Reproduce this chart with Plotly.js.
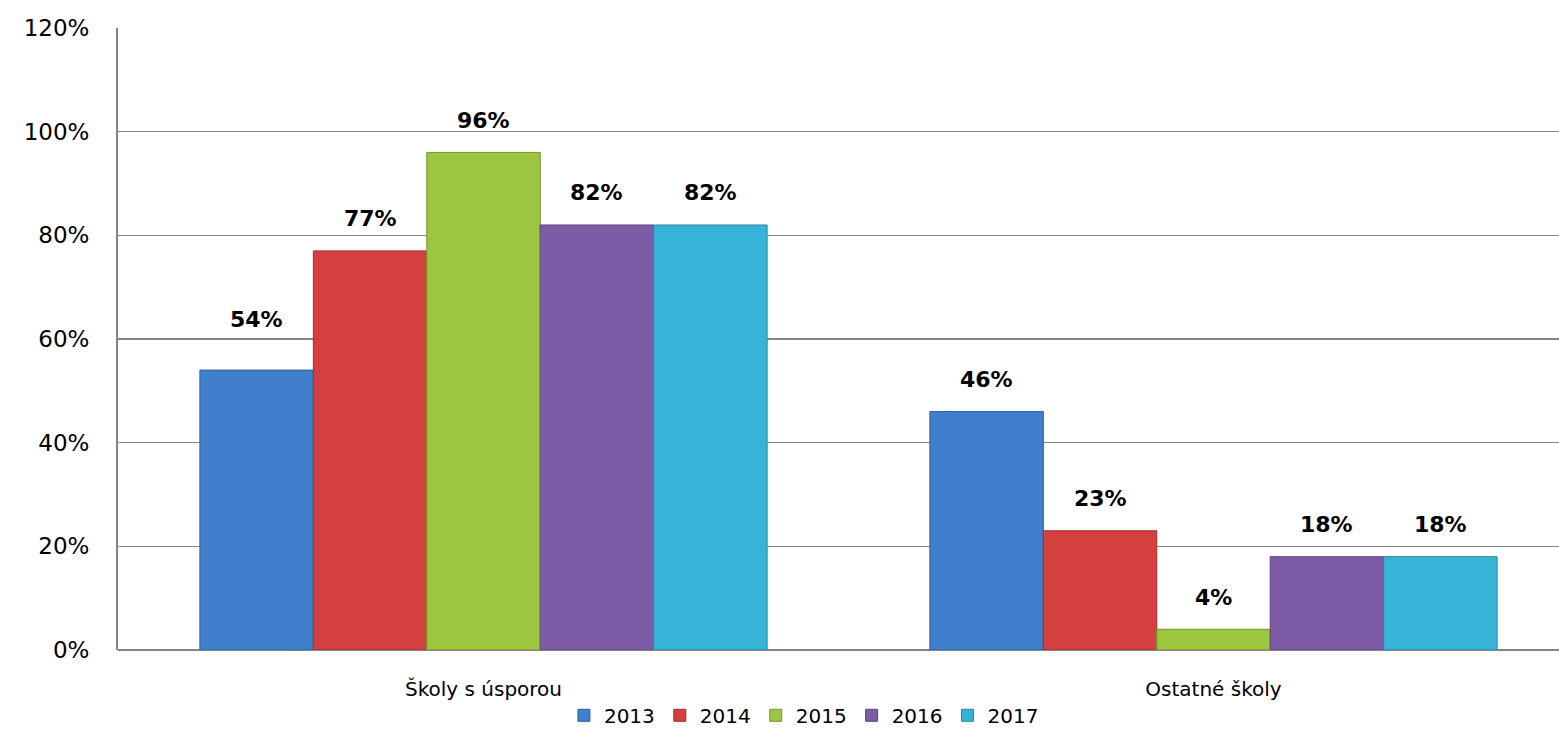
<!DOCTYPE html>
<html>
<head>
<meta charset="utf-8">
<script src="https://cdn.plot.ly/plotly-3.0.1.min.js"></script>
<style>html,body{margin:0;padding:0;background:#fff;}#chart{width:1559px;height:752px;}</style>
</head>
<body>
<div id="chart"></div>
<script>
const categories = ['Školy s úsporou', 'Ostatné školy'];
const years = ['2013', '2014', '2015', '2016', '2017'];
const v2013 = [0.54, 0.46];
const v2014 = [0.77, 0.23];
const v2015 = [0.96, 0.04];
const v2016 = [0.82, 0.18];
const v2017 = [0.82, 0.18];
const yTicks = [0, 0.2, 0.4, 0.6, 0.8, 1.0, 1.2];

const seriesValues = [v2013, v2014, v2015, v2016, v2017];
const colors = ['#3F7FCC', '#D4403D', '#9CC640', '#7E5BA6', '#36B4D7'];
const lineColors = ['#2E5F9A', '#9E2F2D', '#74952F', '#5D437C', '#2886A0'];
const bargap = 0.223;
const FONT = '"DejaVu Sans", "Open Sans", sans-serif';

const traces = seriesValues.map((vals, i) => ({
  type: 'bar',
  name: years[i],
  x: categories.map((c, j) => j),
  y: vals,
  marker: {color: colors[i], line: {color: lineColors[i], width: 1}},
  hoverinfo: 'skip'
}));

const n = seriesValues.length;
const w = (1 - bargap) / n;
const annotations = [];
seriesValues.forEach((vals, i) => {
  vals.forEach((v, j) => {
    annotations.push({
      x: j + (i - (n - 1) / 2) * w,
      y: v,
      xref: 'x', yref: 'y',
      text: Math.round(v * 100) + '%',
      showarrow: false,
      yanchor: 'middle',
      yshift: (i === 0 && j === 0) ? 51 : 32,
      font: {family: FONT, size: 22, color: '#000', weight: 'bold'}
    });
  });
});

const layout = {
  width: 1559, height: 752,
  margin: {l: 118, r: 0, t: 28, b: 102},
  paper_bgcolor: '#fff', plot_bgcolor: '#fff',
  barmode: 'group',
  bargap: bargap,
  bargroupgap: 0,
  showlegend: true,
  legend: {
    orientation: 'h', x: 0.476, xanchor: 'center', y: -0.105, yanchor: 'middle',
    font: {family: FONT, size: 20, color: '#000'},
    itemwidth: 30, tracegroupgap: 0, traceorder: 'normal'
  },
  xaxis: {
    type: 'linear',
    range: [-0.5007, 1.4733],
    tickmode: 'array',
    tickvals: categories.map((c, j) => j),
    ticktext: categories,
    showgrid: false,
    zeroline: false,
    showline: false,
    ticks: '',
    ticklabelstandoff: 25,
    tickfont: {family: FONT, size: 20, color: '#000'}
  },
  yaxis: {
    range: [0, 1.2],
    tickmode: 'array',
    tickvals: yTicks,
    tickformat: '.0%',
    showgrid: true,
    gridcolor: '#858585',
    gridwidth: 1.6,
    zeroline: true,
    zerolinecolor: '#858585',
    zerolinewidth: 2,
    showline: true,
    linecolor: '#858585',
    linewidth: 2,
    ticks: '',
    ticklabelstandoff: 22,
    tickfont: {family: FONT, size: 23, color: '#000'}
  },
  annotations: annotations,
  font: {family: FONT}
};

Plotly.newPlot('chart', traces, layout, {displayModeBar: false, staticPlot: true});
</script>
</body>
</html>
